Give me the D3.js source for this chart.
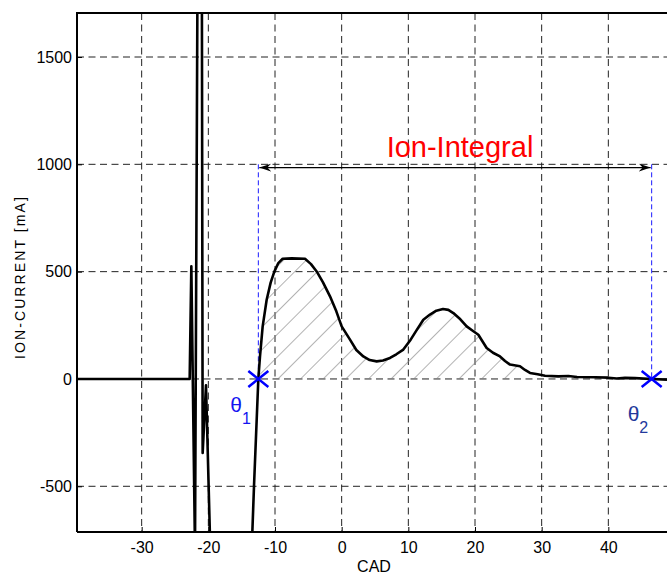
<!DOCTYPE html>
<html><head><meta charset="utf-8">
<script src="https://cdn.jsdelivr.net/npm/d3@7"></script>
<style>
body{margin:0;background:#fff}
svg{display:block}
text{font-family:"Liberation Sans",Arial,Helvetica,sans-serif}
</style>
</head><body>
<svg id="c" width="667" height="575"></svg>
<script>
// ---- data ----
const xTicks = [-30, -20, -10, 0, 10, 20, 30, 40];
const yTicks = [-500, 0, 500, 1000, 1500];
const cad = [-39.7, -35, -30, -25, -22.8, -22.55, -22.0, -21.55, -21.0, -20.85, -20.35, -19.7, -13.5,
  -13.15, -12.5, -12.25, -11.85, -11.25, -10.65, -10.1, -9.5, -8.85, -7.5, -5.5, -4.6, -3.75, -2.8, -1.75,
  -0.8, 0, 1.25, 2.2, 3.25, 4.2, 5.25, 6.2, 7.25, 8.2, 9.25, 10.35, 11.2, 12.25, 13.25, 14.2, 15.2, 16.0,
  16.75, 17.8, 18.75, 19.6, 20.5, 21.75, 22.7, 23.75, 24.5, 25.25, 26.75, 27.5, 28.25, 29.4, 30.5, 32.5,
  34.0, 35.3, 38, 40, 41.25, 42.5, 44, 46.5, 48.8];
const current = [0, 0, 0, 0, 0, 525, -800, 2400, 2400, -345, -30, -800, -800,
  -500, 0, 105, 245, 369, 449, 500, 540, 560, 562, 560, 535, 501, 450, 385,
  315, 245, 183, 135, 105, 88, 82, 86, 98, 115, 137, 183, 225, 276, 300, 318, 326, 322,
  307, 278, 245, 226, 206, 144, 122, 105, 84, 67, 59, 42, 28, 22, 15, 12,
  14, 9, 8, 6, 2, 5, 4, 0, -3];
const theta = [-12.5, 46.5];
const thetaLabels = ["1", "2"];
const integralLevel = 985;
const hatchEnd = 27;

// ---- scales ----
const svg = d3.select("#c");
const x = d3.scaleLinear().domain([-39.7, 50]).range([77, 675]);
const y = d3.scaleLinear().domain([-713, 1705]).range([532, 13]);
const L = 77, R = 675, T = 13, B = 532;

const defs = svg.append("defs");
defs.append("clipPath").attr("id", "clip").append("rect")
  .attr("x", L).attr("y", T).attr("width", R - L).attr("height", B - T);
const pat = defs.append("pattern").attr("id", "hatch").attr("patternUnits", "userSpaceOnUse")
  .attr("width", 16).attr("height", 16).attr("patternTransform", "rotate(45)");
pat.append("line").attr("x1", 0).attr("y1", 0).attr("x2", 0).attr("y2", 16)
  .attr("stroke", "#808080").attr("stroke-width", 1.2);
const mk = (id, rev) => {
  const m = defs.append("marker").attr("id", id).attr("viewBox", "0 0 12 10")
    .attr("refX", rev ? 0 : 12).attr("refY", 5).attr("markerWidth", 12).attr("markerHeight", 10)
    .attr("markerUnits", "userSpaceOnUse").attr("orient", "auto");
  m.append("path").attr("d", rev ? "M12,1 L0,5 L12,9 L8,5 Z" : "M0,1 L12,5 L0,9 L4,5 Z").attr("fill", "#000");
};
mk("arrEnd", false); mk("arrStart", true);

// ---- grid ----
const grid = svg.append("g").attr("stroke", "#222").attr("stroke-width", 1).attr("stroke-dasharray", "7,4.5");
grid.selectAll(".vx").data(xTicks).join("line")
  .attr("x1", d => x(d)).attr("x2", d => x(d)).attr("y1", T).attr("y2", B);
grid.selectAll(".hy").data(yTicks).join("line")
  .attr("x1", L).attr("x2", R).attr("y1", d => y(d)).attr("y2", d => y(d));

// ---- hatch area ----
const pts = cad.map((c, i) => [c, current[i]]);
const hatchPts = [[theta[0], 0]].concat(pts.filter(p => p[0] > theta[0] && p[0] <= hatchEnd));
svg.append("path").datum(hatchPts)
  .attr("d", d3.area().x(d => x(d[0])).y0(y(0)).y1(d => y(Math.max(0, d[1]))))
  .attr("fill", "url(#hatch)").attr("stroke", "none");

// ---- blue dashed verticals ----
svg.append("g").selectAll("line").data(theta).join("line")
  .attr("x1", d => x(d)).attr("x2", d => x(d)).attr("y1", y(1000)).attr("y2", y(0))
  .attr("stroke", "#1a1aff").attr("stroke-width", 1).attr("stroke-dasharray", "5,3");

// ---- curve ----
svg.append("path").datum(pts).attr("clip-path", "url(#clip)")
  .attr("d", d3.line().x(d => x(d[0])).y(d => y(d[1])))
  .attr("fill", "none").attr("stroke", "#000").attr("stroke-width", 2.6).attr("stroke-linejoin", "round");

// ---- axes ----
const fmt = d => String(d);
const xa = svg.append("g").attr("transform", `translate(0,${B})`)
  .call(d3.axisBottom(x).tickValues(xTicks).tickFormat(fmt).tickSize(-5).tickPadding(9.5));
const ya = svg.append("g").attr("transform", `translate(${L},0)`)
  .call(d3.axisLeft(y).tickValues(yTicks).tickFormat(fmt).tickSize(-5).tickPadding(5));
[xa, ya].forEach(a => {
  a.select(".domain").remove();
  a.attr("font-family", null);
  a.selectAll("text").attr("font-size", 16).attr("fill", "#000");
  a.selectAll("line").attr("stroke", "#000");
});
// frame
svg.append("path").attr("d", `M${L},${B}H${R}M${L},${B}V${T}H${R}`)
  .attr("fill", "none").attr("stroke", "#000").attr("stroke-width", 2);

// ---- labels ----
svg.append("text").attr("x", 374).attr("y", 572).attr("text-anchor", "middle")
  .attr("font-size", 16).text("CAD");
svg.append("text").attr("transform", `translate(25,277) rotate(-90)`)
  .attr("text-anchor", "middle").attr("font-size", 14).attr("letter-spacing", 2.1)
  .text("ION-CURRENT [mA]");

// ---- Ion-Integral arrow ----
svg.append("line").attr("x1", x(theta[0]) + 1).attr("x2", x(theta[1]) - 1)
  .attr("y1", y(integralLevel)).attr("y2", y(integralLevel))
  .attr("stroke", "#000").attr("stroke-width", 1.3)
  .attr("marker-start", "url(#arrStart)").attr("marker-end", "url(#arrEnd)");
svg.append("text").attr("x", 460).attr("y", 157).attr("text-anchor", "middle")
  .attr("font-size", 29).attr("fill", "#ff0000").text("Ion-Integral");

// ---- theta markers ----
const colors = ["#1414f0", "#23399c"];
theta.forEach((t, i) => {
  const cx = x(t), cy = y(0);
  svg.append("path").attr("d", `M${cx - 10},${cy - 8}L${cx + 10},${cy + 8}M${cx - 10},${cy + 8}L${cx + 10},${cy - 8}`)
    .attr("stroke", "#0000ff").attr("stroke-width", 2.5).attr("fill", "none");
  const lx = i === 0 ? cx - 28 : cx - 24;
  const ly = i === 0 ? 412 : 421;
  const tx = svg.append("text").attr("x", lx).attr("y", ly).attr("fill", colors[i]).attr("font-size", 21);
  tx.append("tspan").text("\u03B8");
  tx.append("tspan").attr("font-size", 16).attr("dy", 12).text(thetaLabels[i]);
});
</script>
</body></html>
